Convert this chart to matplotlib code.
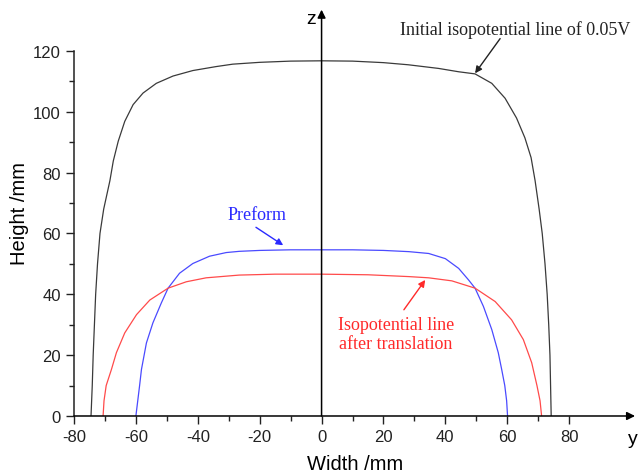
import numpy as np
import matplotlib.pyplot as plt

# Curves (x = width in mm, z = height in mm)
init_x = [-74.5, -74.1, -73.8, -73.4, -73.0, -72.4, -71.6, -70.4, -68.4, -67.3,
          -65.7, -63.6, -60.9, -57.7, -53.4, -48.0, -41.6, -34.1, -28.7, -20.0,
          -10.0, 0.0, 10.0, 20.0, 28.0, 37.8, 44.3, 49.6, 55.0, 59.3,
          63.0, 65.7, 67.7, 69.0, 70.3, 71.3, 72.2, 72.9, 73.4, 73.8,
          74.0, 74.2]
init_z = [0, 10, 20, 30, 40, 50, 60, 68, 77.3, 83.8,
          90.3, 96.8, 102.3, 106.1, 109.3, 111.7, 113.5, 114.8, 115.6, 116.2,
          116.6, 116.7, 116.6, 116.1, 115.4, 114.2, 113.1, 112.4, 109.3, 104.4,
          97.9, 91.4, 84.9, 77.3, 68, 60, 50, 40, 30, 20,
          10, 0]

pre_x = [-60.0, -59.4, -58.8, -58.2, -56.6, -54.5, -51.8, -49.6, -45.9, -41.6,
         -36.2, -30.8, -26.6, -20.0, -10.0, 0.0, 10.0, 20.0, 28.2, 34.6,
         40.0, 44.3, 47.5, 49.6, 52.3, 55.0, 57.1, 58.2, 59.2, 59.8,
         60.1]
pre_z = [0, 5, 10, 15.3, 24, 30.6, 37.1, 42, 46.9, 50.1,
         52.5, 53.7, 54.1, 54.4, 54.6, 54.6, 54.6, 54.4, 54.0, 53.4,
         51.7, 48.5, 44.7, 42, 36, 28.4, 20.8, 15.3, 10, 5,
         0]

tr_x = [-70.6, -70.3, -69.6, -67.9, -66.3, -63.6, -59.8, -55.5, -49.6, -43.7,
        -37.3, -26.6, -15.0, 0.0, 15.0, 28.2, 34.6, 42.1, 49.6, 56.1,
        61.4, 65.2, 67.9, 69.6, 70.6, 71.1]
tr_z = [0, 5, 10, 15.3, 20.8, 27.3, 33.3, 38.1, 42, 44.1,
        45.4, 46.3, 46.6, 46.6, 46.4, 45.8, 45.4, 44.4, 42, 37.6,
        31.6, 25.1, 17.5, 10, 5, 0]

x_ticks = [-80, -60, -40, -20, 0, 20, 40, 60, 80]
y_ticks = [0, 20, 40, 60, 80, 100, 120]

plt.rcParams['font.family'] = ['Liberation Sans', 'DejaVu Sans']
plt.rcParams['axes.unicode_minus'] = False

fig = plt.figure(figsize=(6.39, 4.77), dpi=100)
ax = fig.add_axes([0.1158, 0.1258, 0.879, 0.855])

ax.plot(init_x, init_z, color='#3a3a3a', lw=0.9)
ax.plot(pre_x, pre_z, color='#4a4aff', lw=0.9)
ax.plot(tr_x, tr_z, color='#ff4a4a', lw=0.9)

ax.set_xlim(-80, 101.5)
ax.set_ylim(0, 134)
ax.set_xticks(x_ticks)
ax.set_xticks(np.arange(-70, 80, 10), minor=True)
ax.set_yticks(y_ticks)
ax.set_yticks(np.arange(10, 120, 10), minor=True)
ax.tick_params(which='major', length=6, width=1, labelsize=12, colors='#222222')
ax.tick_params(which='minor', length=3.5, width=1, colors='#222222')

for s in ['top', 'right', 'bottom']:
    ax.spines[s].set_visible(False)
ax.spines['left'].set_bounds(0, 120)
ax.spines['left'].set_linewidth(1.1)
ax.spines['left'].set_color('#222222')

# y axis (horizontal) and z axis (centre) with arrow heads
ax.annotate('', xy=(101.3, 0), xytext=(-80, 0), annotation_clip=False,
            arrowprops=dict(arrowstyle='-|>', color='black', lw=1.1,
                            mutation_scale=12, shrinkA=0, shrinkB=0))
ax.annotate('', xy=(0, 133.5), xytext=(0, 0), annotation_clip=False,
            arrowprops=dict(arrowstyle='-|>', color='black', lw=1.1,
                            mutation_scale=12, shrinkA=0, shrinkB=0))
ax.text(-3.5, 130.5, 'z', fontsize=14, ha='center', va='center')
ax.text(100.5, -7.5, 'y', fontsize=14, ha='center', va='center')

ax.set_xlabel('Width /mm', fontsize=14.5, labelpad=7)
ax.set_ylabel('Height /mm', fontsize=14.5, labelpad=3)

serif = ['Liberation Serif', 'DejaVu Serif']
ax.text(62.6, 127.2, 'Initial isopotential line of 0.05V', fontsize=13, family=serif,
        color='#222222', ha='center', va='center')
ax.annotate('', xy=(49.6, 112.6), xytext=(57.7, 124.0),
            arrowprops=dict(arrowstyle='-|>', color='#222222', lw=1,
                            mutation_scale=10, shrinkA=0, shrinkB=0))

ax.text(-20.8, 66.2, 'Preform', fontsize=13, family=serif,
        color='#2a2aff', ha='center', va='center')
ax.annotate('', xy=(-12.4, 56.1), xytext=(-21.2, 62.0),
            arrowprops=dict(arrowstyle='-|>', color='#2a2aff', lw=1,
                            mutation_scale=10, shrinkA=0, shrinkB=0))

ax.text(24, 26.9, 'Isopotential line\nafter translation', fontsize=13, family=serif,
        color='#ff2a2a', ha='center', va='center', linespacing=1.15)
ax.annotate('', xy=(33.5, 44.7), xytext=(26.6, 34.9),
            arrowprops=dict(arrowstyle='-|>', color='#ff2a2a', lw=1,
                            mutation_scale=10, shrinkA=0, shrinkB=0))

fig.savefig('out.png', dpi=100)
